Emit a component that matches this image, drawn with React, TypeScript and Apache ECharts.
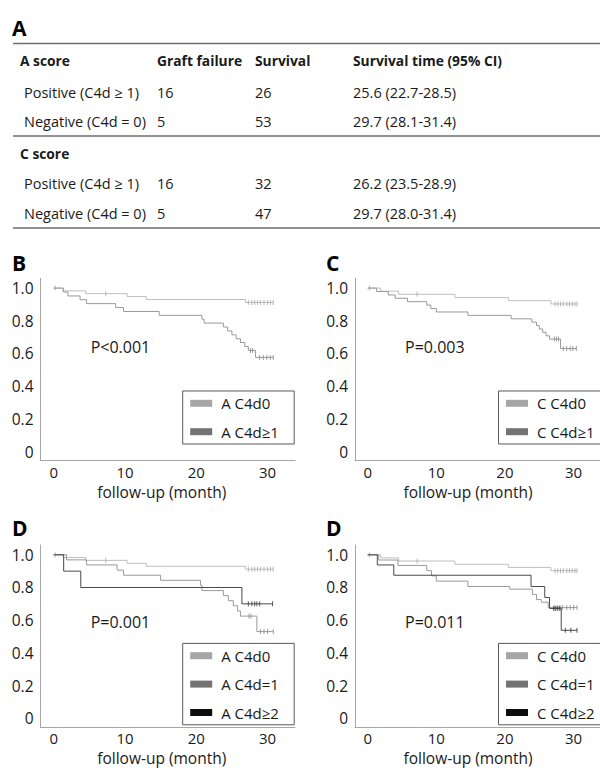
import React, { useEffect, useRef } from "react";
import * as echarts from "echarts";

// ---------- axis ticks ----------
const monthTicks = [0, 10, 20, 30];
const survivalTicks = [0, 0.2, 0.4, 0.6, 0.8, 1.0];

// ---------- table (panel A) ----------
const tableHeader = ["A score", "Graft failure", "Survival", "Survival time (95% CI)"];
const secondScoreLabel = "C score";
const rowLabels = ["Positive (C4d \u2265 1)", "Negative (C4d = 0)"];
const aGraftFailure = [16, 5];
const aSurvival = [26, 53];
const aSurvivalTime = ["25.6 (22.7-28.5)", "29.7 (28.1-31.4)"];
const cGraftFailure = [16, 5];
const cSurvival = [32, 47];
const cSurvivalTime = ["26.2 (23.5-28.9)", "29.7 (28.0-31.4)"];

// ---------- panel labels ----------
const panelLetters = ["B", "C", "D", "D"];
const pValues = ["P<0.001", "P=0.003", "P=0.001", "P=0.011"];
const axisName = "follow-up (month)";

// ---------- Kaplan-Meier curves (months, survival) ----------
// A score, C4d0
const aC4d0Times = [0, 1.35, 4.5, 10.3, 13.0, 26.9, 30.8];
const aC4d0Surv = [1.0, 0.983, 0.966, 0.948, 0.93, 0.912, 0.912];
const aC4d0Censor = [0.2, 7.3, 27.3, 27.8, 28.2, 28.6, 29.0, 29.5, 30.0, 30.4, 30.8];
// A score, C4d>=1
const aC4dPosTimes = [0, 1.35, 2.0, 3.7, 4.6, 8.7, 9.8, 14.8, 20.8, 21.1, 23.8, 24.4, 25.0, 25.6, 26.2, 26.8, 27.3, 28.3, 30.8];
const aC4dPosSurv = [1.0, 0.976, 0.952, 0.929, 0.905, 0.881, 0.857, 0.833, 0.81, 0.786, 0.762, 0.738, 0.714, 0.69, 0.667, 0.643, 0.619, 0.576, 0.576];
const aC4dPosCensor = [27.6, 27.9, 28.9, 29.4, 29.9, 30.4, 30.8];
// C score, C4d0
const cC4d0Times = [0, 1.9, 4.5, 12.7, 20.5, 26.7, 30.5];
const cC4d0Surv = [1.0, 0.981, 0.962, 0.942, 0.923, 0.903, 0.903];
const cC4d0Censor = [0.25, 7.2, 27.3, 27.7, 28.1, 28.5, 29.0, 29.4, 29.8, 30.2, 30.5];
// C score, C4d>=1
const cC4dPosTimes = [0, 1.3, 3.0, 4.0, 5.8, 8.6, 9.2, 10.0, 14.6, 20.9, 23.9, 24.6, 25.0, 25.5, 26.0, 26.5, 28.1, 30.4];
const cC4dPosSurv = [1.0, 0.979, 0.958, 0.938, 0.917, 0.896, 0.875, 0.854, 0.833, 0.812, 0.792, 0.771, 0.75, 0.729, 0.708, 0.688, 0.63, 0.63];
const cC4dPosCensor = [27.2, 27.5, 27.8, 28.5, 29.0, 29.5, 29.9, 30.4];
// A score, C4d=1
const aC4d1Times = [0, 1.8, 4.6, 8.9, 9.8, 15.0, 20.6, 20.8, 23.8, 24.5, 25.2, 25.8, 26.2, 28.5, 30.8];
const aC4d1Surv = [1.0, 0.969, 0.938, 0.906, 0.875, 0.844, 0.813, 0.781, 0.75, 0.719, 0.688, 0.656, 0.625, 0.53, 0.53];
const aC4d1Censor = [27.4, 27.7, 29.0, 29.5, 30.0, 30.8];
// A score, C4d>=2
const aC4d2Times = [0, 1.4, 3.8, 26.4, 30.7];
const aC4d2Surv = [1.0, 0.9, 0.8, 0.7, 0.7];
const aC4d2Censor = [27.3, 27.8, 28.2, 28.5, 28.9, 30.7];
// C score, C4d=1
const cC4d1Times = [0, 1.6, 4.4, 8.6, 9.3, 10.0, 14.6, 20.7, 24.0, 24.6, 25.3, 26.3, 30.5];
const cC4d1Surv = [1.0, 0.968, 0.935, 0.903, 0.871, 0.839, 0.806, 0.79, 0.758, 0.726, 0.71, 0.677, 0.677];
const cC4d1Censor = [27.2, 27.6, 28.0, 28.4, 29.0, 29.5, 30.0, 30.5];
// C score, C4d>=2
const cC4d2Times = [0, 1.4, 3.8, 23.8, 25.8, 26.5, 28.2, 30.5];
const cC4d2Surv = [1.0, 0.938, 0.875, 0.806, 0.739, 0.672, 0.538, 0.538];
const cC4d2Censor = [27.1, 27.4, 27.7, 28.0, 28.8, 29.6, 30.5];

type Curve = { name: string; tone: number; times: number[]; surv: number[]; censor: number[] };

const panelCurves: Curve[][] = [
  [
    { name: "A C4d0", tone: 0, times: aC4d0Times, surv: aC4d0Surv, censor: aC4d0Censor },
    { name: "A C4d\u22651", tone: 1, times: aC4dPosTimes, surv: aC4dPosSurv, censor: aC4dPosCensor },
  ],
  [
    { name: "C C4d0", tone: 0, times: cC4d0Times, surv: cC4d0Surv, censor: cC4d0Censor },
    { name: "C C4d\u22651", tone: 1, times: cC4dPosTimes, surv: cC4dPosSurv, censor: cC4dPosCensor },
  ],
  [
    { name: "A C4d0", tone: 0, times: aC4d0Times, surv: aC4d0Surv, censor: aC4d0Censor },
    { name: "A C4d=1", tone: 1, times: aC4d1Times, surv: aC4d1Surv, censor: aC4d1Censor },
    { name: "A C4d\u22652", tone: 2, times: aC4d2Times, surv: aC4d2Surv, censor: aC4d2Censor },
  ],
  [
    { name: "C C4d0", tone: 0, times: cC4d0Times, surv: cC4d0Surv, censor: cC4d0Censor },
    { name: "C C4d=1", tone: 1, times: cC4d1Times, surv: cC4d1Surv, censor: cC4d1Censor },
    { name: "C C4d\u22652", tone: 2, times: cC4d2Times, surv: cC4d2Surv, censor: cC4d2Censor },
  ],
];

// ---------- styling / layout ----------
const FONT = "'Open Sans', sans-serif";
const TEXT = "#1a1a1a";
const lineColors = ["#bdbdbd", "#9a9a9a", "#4a4a4a"];
const censorColors = ["#a8a8a8", "#8a8a8a", "#333333"];
const swatchColors = ["#a6a6a6", "#737373", "#0d0d0d"];
const X_MIN = -1.85;
const X_MAX = 33.85;
const Y_MIN = -0.056;
const Y_MAX = 1.06;
const GRID_H = 182.4;

const layout = [
  { left: 40.5, top: 278.3, width: 254.5, legendLeft: 182.7, legendTop: 391, padR: 11, letterX: 12, letterY: 263, pX: 90.7, pY: 346.7, namePad: 12 },
  { left: 355, top: 278.3, width: 256, legendLeft: 498.5, legendTop: 391, padR: 16, letterX: 326, letterY: 263, pX: 405, pY: 346.7, namePad: 19 },
  { left: 40.5, top: 545, width: 254.5, legendLeft: 182.7, legendTop: 643.4, padR: 11, letterX: 12, letterY: 528.3, pX: 90.7, pY: 621.7, namePad: 12 },
  { left: 355, top: 545, width: 256, legendLeft: 498.5, legendTop: 643.4, padR: 16, letterX: 326, letterY: 528.3, pX: 405, pY: 621.7, namePad: 19 },
];

function survivalAt(times: number[], surv: number[], t: number): number {
  let v = surv[0];
  for (let i = 0; i < times.length; i++) if (times[i] <= t) v = surv[i];
  return v;
}

function buildOption(): any {
  const series: any[] = [];
  panelCurves.forEach((curves, i) => {
    curves.forEach((c, j) => {
      series.push({
        type: "line",
        name: c.name,
        xAxisIndex: i,
        yAxisIndex: i,
        step: "end",
        symbol: "none",
        showSymbol: false,
        silent: true,
        z: 2 + j,
        data: c.times.map((t, k) => [t, c.surv[k]]),
        lineStyle: { color: lineColors[c.tone], width: 1 },
        itemStyle: { color: swatchColors[c.tone] },
      });
      series.push({
        type: "scatter",
        name: c.name + " censored",
        xAxisIndex: i,
        yAxisIndex: i,
        symbol: "rect",
        symbolSize: [1, 5],
        silent: true,
        z: 2 + j,
        data: c.censor.map((t) => [t, survivalAt(c.times, c.surv, t)]),
        itemStyle: { color: censorColors[c.tone] },
      });
    });
  });

  const graphic: any[] = [];
  // panel A title
  graphic.push({ type: "text", x: 12, y: 28, style: { text: "A", fontFamily: FONT, fontSize: 21, fontWeight: "bold", fill: "#000", verticalAlign: "middle" } });
  // table lines
  [43.5, 136, 228].forEach((y) => {
    graphic.push({ type: "line", shape: { x1: 13, y1: y, x2: 600, y2: y }, style: { stroke: "#6e6e6e", lineWidth: 1.6 } });
  });
  const colX = [20, 157, 255, 353];
  const rowLabelX = 24;
  const cell = (text: string, x: number, y: number, bold = false) =>
    graphic.push({ type: "text", x, y, style: { text, fontFamily: FONT, fontSize: bold ? 13.8 : 14.5, fontWeight: bold ? "bold" : "normal", fill: TEXT, verticalAlign: "middle" } });
  tableHeader.forEach((h, k) => cell(h, colX[k], 60, true));
  const aRowsY = [92, 121.7];
  rowLabels.forEach((lbl, r) => {
    cell(lbl, rowLabelX, aRowsY[r]);
    cell(String(aGraftFailure[r]), colX[1], aRowsY[r]);
    cell(String(aSurvival[r]), colX[2], aRowsY[r]);
    cell(aSurvivalTime[r], colX[3], aRowsY[r]);
  });
  cell(secondScoreLabel, colX[0], 153.3, true);
  const cRowsY = [183.3, 213.3];
  rowLabels.forEach((lbl, r) => {
    cell(lbl, rowLabelX, cRowsY[r]);
    cell(String(cGraftFailure[r]), colX[1], cRowsY[r]);
    cell(String(cSurvival[r]), colX[2], cRowsY[r]);
    cell(cSurvivalTime[r], colX[3], cRowsY[r]);
  });
  // panel letters and p-values
  layout.forEach((l, i) => {
    graphic.push({ type: "text", x: l.letterX, y: l.letterY, style: { text: panelLetters[i], fontFamily: FONT, fontSize: 21, fontWeight: "bold", fill: "#000", verticalAlign: "middle" } });
    graphic.push({ type: "text", x: l.pX, y: l.pY, style: { text: pValues[i], fontFamily: FONT, fontSize: 16, fill: TEXT, verticalAlign: "middle" } });
  });

  return {
    animation: false,
    backgroundColor: "#ffffff",
    textStyle: { fontFamily: FONT },
    grid: layout.map((l) => ({ left: l.left, top: l.top, width: l.width, height: GRID_H, containLabel: false })),
    xAxis: layout.map((l, i) => ({
      type: "value",
      gridIndex: i,
      min: X_MIN,
      max: X_MAX,
      axisLine: { show: true, onZero: false, lineStyle: { color: "#a6a6a6", width: 1 } },
      axisTick: { show: false },
      splitLine: { show: false },
      axisLabel: { customValues: monthTicks, fontFamily: FONT, fontSize: 15, color: TEXT, margin: 3.5, lineHeight: 15 },
      name: axisName,
      nameLocation: "middle",
      nameGap: 23,
      nameTextStyle: { fontFamily: FONT, fontSize: 15.5, color: TEXT, lineHeight: 16, padding: [0, l.namePad, 0, 0] },
    })),
    yAxis: layout.map((l, i) => ({
      type: "value",
      gridIndex: i,
      min: Y_MIN,
      max: Y_MAX,
      axisLine: { show: true, onZero: false, lineStyle: { color: "#a6a6a6", width: 1 } },
      axisTick: { show: false },
      splitLine: { show: false },
      axisLabel: {
        customValues: survivalTicks,
        formatter: (v: number) => (v === 0 ? "0" : v.toFixed(1)),
        fontFamily: FONT,
        fontSize: 15.5,
        color: TEXT,
        margin: 7,
      },
    })),
    legend: layout.map((l, i) => ({
      orient: "vertical",
      left: l.legendLeft,
      top: l.legendTop,
      selectedMode: false,
      padding: [3.3, l.padR, 3.3, 7.5],
      itemWidth: 22,
      itemHeight: 7,
      itemGap: 10.4,
      borderColor: "#595959",
      borderWidth: 1,
      borderRadius: 0,
      backgroundColor: "#ffffff",
      textStyle: { fontFamily: FONT, fontSize: 15, color: TEXT, lineHeight: 18, width: 62, padding: [0, 0, 0, 4] },
      data: panelCurves[i].map((c) => ({
        name: c.name,
        icon: "rect",
        itemStyle: { color: swatchColors[c.tone], borderWidth: 0 },
      })),
    })),
    graphic,
    series,
  };
}

export default function App() {
  const ref = useRef<HTMLDivElement>(null);
  useEffect(() => {
    if (!ref.current) return;
    const chart = echarts.init(ref.current, null, { renderer: "svg" });
    chart.setOption(buildOption());
    return () => chart.dispose();
  }, []);
  return <div ref={ref} style={{ position: "absolute", left: 0, top: 0, width: 600, height: 771 }} />;
}
